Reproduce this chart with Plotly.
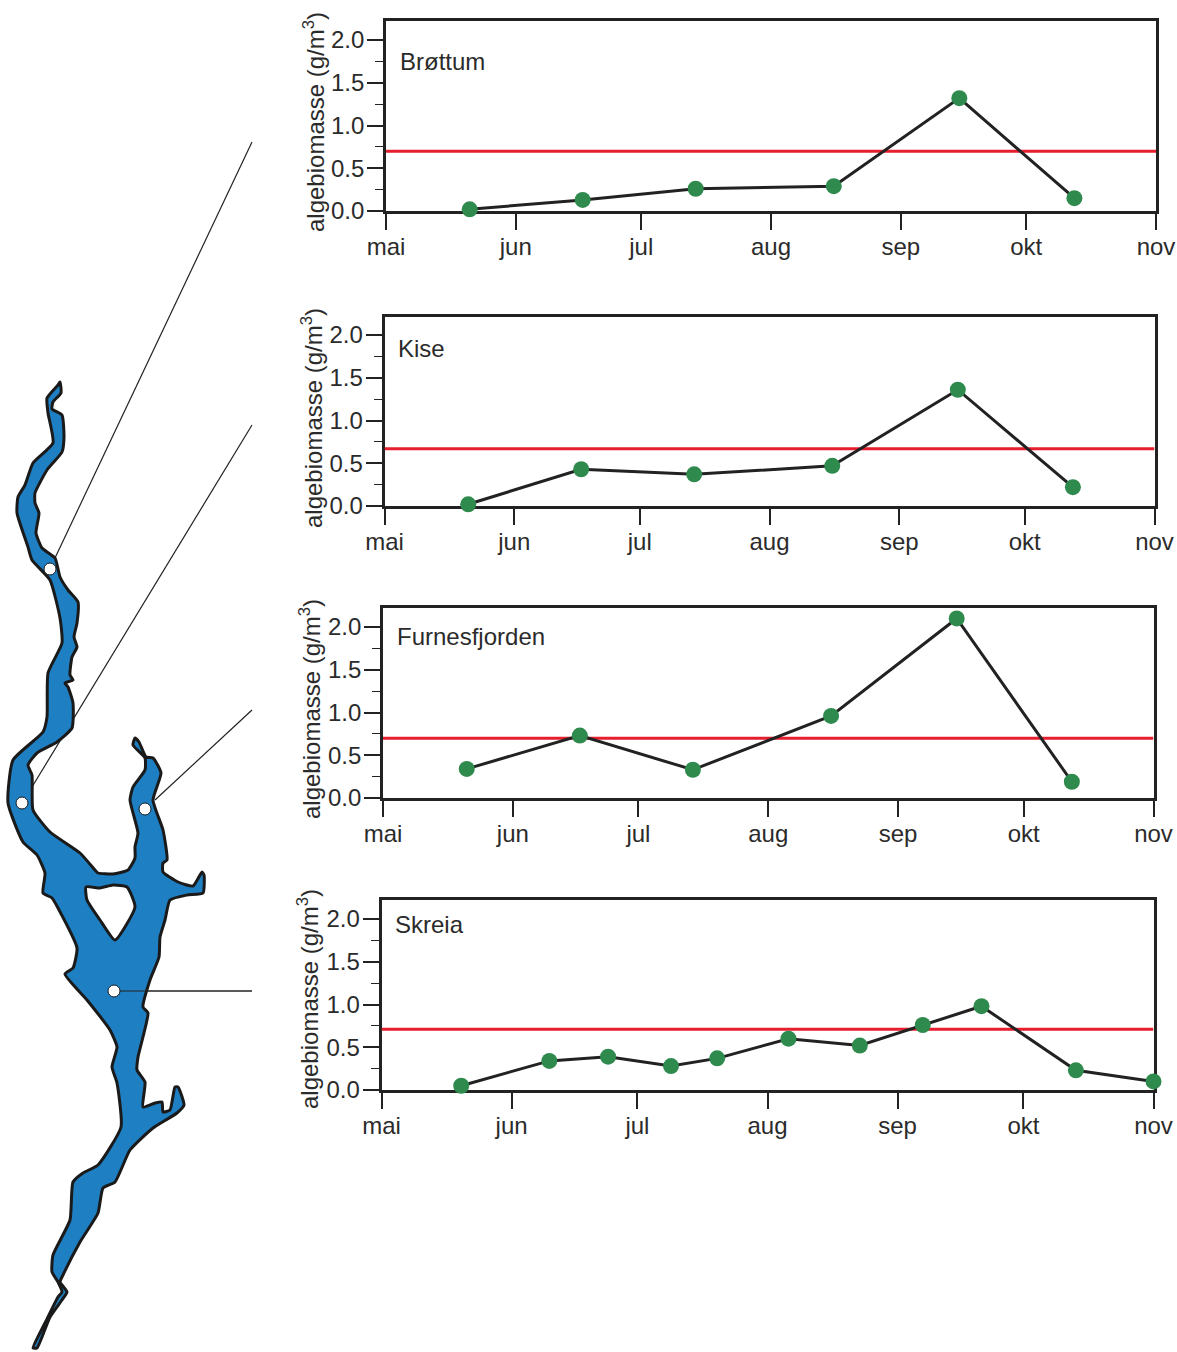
import plotly.graph_objects as go

W, H = 1177, 1352
FONT = "Liberation Sans, Arial, sans-serif"
INK = "#222222"
TXT = "#2b2b2b"

month_ticks = ["2001-05-01", "2001-06-01", "2001-07-01", "2001-08-01", "2001-09-01", "2001-10-01", "2001-11-01"]
month_labels = ["mai", "jun", "jul", "aug", "sep", "okt", "nov"]
y_ticks = [0.0, 0.5, 1.0, 1.5, 2.0]

brottum_dates = ["2001-05-21", "2001-06-17", "2001-07-14", "2001-08-16", "2001-09-15", "2001-10-12 12:00"]
brottum_vals = [0.02, 0.13, 0.26, 0.29, 1.32, 0.15]
brottum_limit = 0.70

kise_dates = ["2001-05-21", "2001-06-17", "2001-07-14", "2001-08-16", "2001-09-15", "2001-10-12 12:00"]
kise_vals = [0.02, 0.43, 0.37, 0.47, 1.36, 0.22]
kise_limit = 0.67

furnes_dates = ["2001-05-21", "2001-06-17", "2001-07-14", "2001-08-16", "2001-09-15", "2001-10-12 12:00"]
furnes_vals = [0.34, 0.73, 0.33, 0.96, 2.10, 0.19]
furnes_limit = 0.70

skreia_dates = ["2001-05-20", "2001-06-10", "2001-06-24", "2001-07-09", "2001-07-20", "2001-08-06",
                "2001-08-23", "2001-09-07", "2001-09-21", "2001-10-13 12:00", "2001-11-01"]
skreia_vals = [0.05, 0.34, 0.39, 0.28, 0.37, 0.60, 0.52, 0.76, 0.98, 0.23, 0.10]
skreia_limit = 0.71

panel_names = ["Brøttum", "Kise", "Furnesfjorden", "Skreia"]

# Lake outline, in map units
lake_x = [60,61,53,52,62,64,62,47,35,35,39,36,42,55,60,68,78,77,74,77,72,70,73,65,68,73,72,57,37,28,32,33,50,80,95,
          98,113,128,135,135,138,130,133,145,145,133,135,139,146,153,161,153,163,167,163,163,178,193,202,204,203,187,
          170,165,160,159,150,143,148,138,137,145,143,155,162,163,170,175,178,184,177,153,130,115,103,98,80,63,60,67,
          62,50,37,33,45,58,62,58,52,53,70,73,83,98,121,117,112,117,110,87,65,73,77,58,52,43,45,37,23,8,13,43,47,48,62,
          60,50,32,28,17,18,25,33,53,48,47,58,60]
lake_y = [382,393,402,409,415,437,452,470,493,503,513,533,548,558,577,590,602,623,637,647,657,675,680,683,687,703,728,
          742,753,765,775,810,832,853,870,873,874,870,858,847,833,800,787,770,758,745,738,742,757,758,773,800,830,860,
          863,872,882,886,872,875,893,895,900,920,937,957,980,1007,1013,1057,1070,1082,1107,1103,1102,1112,1110,1087,
          1087,1105,1113,1128,1150,1182,1188,1213,1242,1275,1282,1292,1300,1317,1348,1348,1323,1297,1292,1282,1272,
          1255,1220,1182,1173,1165,1127,1083,1067,1047,1030,1000,974,968,948,908,898,893,873,855,842,803,760,732,717,
          673,643,618,580,560,547,513,497,485,463,443,413,398,385,382]
island_x = [86,100,113,127,135,115,100,87,86]
island_y = [887,888,885,887,907,940,920,900,887]
station_x = [50,22,145,114]
station_y = [569,803,809,991]
leader_x = [[55,252],[32,252],[155,252],[120,252]]
leader_y = [[558,142],[787,425],[800,710],[991,991]]

panels = [
    dict(dates=brottum_dates, vals=brottum_vals, limit=brottum_limit, left=386, right=1156, top=20.5, zero=211, lx=400, ly=61, tx=314, ty=122),
    dict(dates=kise_dates, vals=kise_vals, limit=kise_limit, left=384.5, right=1154.5, top=316.5, zero=506, lx=398, ly=348, tx=312, ty=418),
    dict(dates=furnes_dates, vals=furnes_vals, limit=furnes_limit, left=383, right=1153.5, top=607.5, zero=798, lx=397, ly=636, tx=310, ty=709),
    dict(dates=skreia_dates, vals=skreia_vals, limit=skreia_limit, left=381.5, right=1153.5, top=899.5, zero=1090, lx=395, ly=924, tx=308, ty=999),
]
UNIT_PX = 85.5

fig = go.Figure()

# Map on a full-window overlay
fig.update_layout(
    xaxis5=dict(domain=[0, 1], range=[0, W], visible=False, fixedrange=True, automargin=False),
    yaxis5=dict(domain=[0, 1], range=[H, 0], visible=False, fixedrange=True, automargin=False),
)
for lx_, ly_ in zip(leader_x, leader_y):
    fig.add_trace(go.Scatter(x=lx_, y=ly_, xaxis="x5", yaxis="y5", mode="lines",
                             line=dict(color=INK, width=1.2), hoverinfo="skip"))
fig.add_trace(go.Scatter(x=lake_x, y=lake_y, xaxis="x5", yaxis="y5", mode="lines", fill="toself",
                         fillcolor="#1f7fc3", line=dict(color="#1a1a1a", width=3, shape="spline", smoothing=0.5),
                         hoverinfo="skip"))
fig.add_trace(go.Scatter(x=island_x, y=island_y, xaxis="x5", yaxis="y5", mode="lines", fill="toself",
                         fillcolor="white", line=dict(color="#1a1a1a", width=3, shape="spline", smoothing=0.5),
                         hoverinfo="skip"))
fig.add_trace(go.Scatter(x=leader_x[3], y=leader_y[3], xaxis="x5", yaxis="y5", mode="lines",
                         line=dict(color=INK, width=1.2), hoverinfo="skip"))
fig.add_trace(go.Scatter(x=station_x, y=station_y, xaxis="x5", yaxis="y5", mode="markers",
                         marker=dict(size=12, color="white", line=dict(color="#1a1a1a", width=1)), hoverinfo="skip"))

annotations = []
for i, p in enumerate(panels, start=1):
    xa = f"x{i}" if i > 1 else "x"
    ya = f"y{i}" if i > 1 else "y"
    fig.add_trace(go.Scatter(x=[month_ticks[0], month_ticks[-1]], y=[p["limit"], p["limit"]], xaxis=xa, yaxis=ya,
                             mode="lines", line=dict(color="#e61e2d", width=3)))
    fig.add_trace(go.Scatter(x=p["dates"], y=p["vals"], xaxis=xa, yaxis=ya, mode="lines+markers", cliponaxis=False,
                             line=dict(color=INK, width=3),
                             marker=dict(size=16, color="#2f8a4e")))
    common = dict(showline=True, linecolor=INK, linewidth=2.6, mirror=True, showgrid=False, zeroline=False,
                  automargin=False, ticks="outside", tickcolor=INK, tickwidth=1.6, ticklen=16, layer="below traces",
                  tickfont=dict(family=FONT, size=24, color=TXT), fixedrange=True)
    fig.update_layout({
        ("xaxis" if i == 1 else f"xaxis{i}"): dict(
            common, type="date", domain=[p["left"] / W, p["right"] / W], anchor=ya, ticklabelstandoff=-4,
            range=[month_ticks[0], month_ticks[-1]], tickmode="array", tickvals=month_ticks, ticktext=month_labels),
        ("yaxis" if i == 1 else f"yaxis{i}"): dict(
            common, domain=[1 - p["zero"] / H, 1 - p["top"] / H], anchor=xa, ticklabelstandoff=-2,
            range=[0, (p["zero"] - p["top"]) / UNIT_PX], tickmode="array", tickvals=y_ticks,
            ticktext=[f"{v:.1f}" for v in y_ticks],
            minor=dict(tickmode="array", tickvals=[0.25, 0.75, 1.25, 1.75], ticks="outside", ticklen=8,
                       tickwidth=1.2, tickcolor=INK)),
    })
    annotations.append(dict(text=panel_names[i - 1], xref="paper", yref="paper", x=p["lx"] / W, y=1 - p["ly"] / H,
                            xanchor="left", yanchor="middle", showarrow=False, xshift=-2,
                            font=dict(family=FONT, size=24, color=TXT)))
    annotations.append(dict(text="algebiomasse (g/m<sup>3</sup>)", xref="paper", yref="paper", x=p["tx"] / W,
                            y=1 - p["ty"] / H, xanchor="center", yanchor="middle", showarrow=False, textangle=-90,
                            font=dict(family=FONT, size=24, color=TXT)))

fig.update_layout(width=W, height=H, margin=dict(l=0, r=0, t=0, b=0, autoexpand=False), showlegend=False,
                  paper_bgcolor="white", plot_bgcolor="rgba(0,0,0,0)", annotations=annotations)

fig.write_html("out.html", config={"displayModeBar": False},
               post_script="document.body.style.margin='0';document.documentElement.style.overflow='hidden';")
